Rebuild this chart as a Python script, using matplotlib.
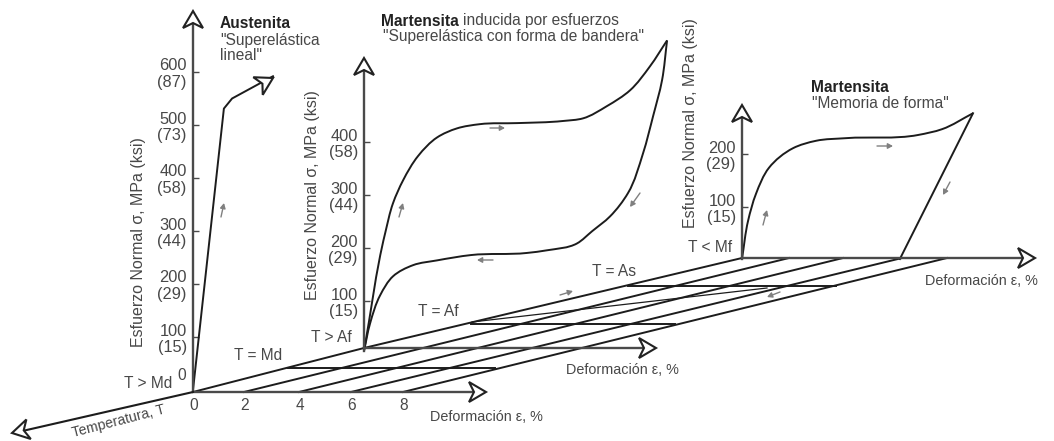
#!/usr/bin/env python3
# Diagrama esfuerzo-deformacion-temperatura (tres paneles sobre un plano base)
import matplotlib
matplotlib.use("Agg")
import numpy as np
import matplotlib.pyplot as plt
from matplotlib.patches import Polygon, PathPatch
from matplotlib.path import Path

plt.rcParams['font.family'] = ['Liberation Sans', 'DejaVu Sans']

W, H = 1054, 441
DARK = '#4a4a4a'
TEXT = '#484848'
GREY = '#808080'
FS = 11.2
X_PX, Y_PX = 26.4, 0.53  # pixeles por % y por MPa

# valores de las curvas: deformacion en %, esfuerzo en MPa
aust_strain = [0, 1.17, 1.48, 3.03]
aust_stress = [0, 531, 550, 592]

band_load_strain = [0, 0.80, 1.10, 1.48, 2.05, 2.77, 3.52, 4.39, 5.80, 7.54, 8.30, 9.20, 10.08, 10.83, 11.48]
band_load_stress = [6, 228, 285, 328, 374, 409, 426, 434, 436, 440, 445, 468, 498, 543, 592]
band_unload_strain = [11.48, 11.29, 10.95, 10.57, 10.0, 9.32, 8.64, 8.07, 6.93, 6.17, 4.05, 2.77, 1.86, 1.10, 0.61, 0.23, 0]
band_unload_stress = [592, 517, 449, 379, 304, 260, 232, 209, 196, 191, 187, 177, 168, 147, 111, 58, 6]

mem_load_strain = [0, 0.23, 0.53, 1.02, 1.93, 2.80, 3.94, 6.67, 7.58, 8.75]
mem_load_stress = [2, 74, 125, 174, 211, 225, 230, 236, 247, 277]
mem_unload_strain = [8.75, 5.98]
mem_unload_stress = [277, 2]

# marcas de los ejes de esfuerzo
aust_ticks = [100, 200, 300, 400, 500, 600]
aust_labels = ['100\n(15)', '200\n(29)', '300\n(44)', '400\n(58)', '500\n(73)', '600\n(87)']
band_ticks = [100, 200, 300, 400]
band_labels = ['100\n(15)', '200\n(29)', '300\n(44)', '400\n(58)']
mem_ticks = [100, 200]
mem_labels = ['100\n(15)', '200\n(29)']
strain_ticks = [0, 2, 4, 6, 8]

# plano base (pixeles de la figura)
diag_front_x = [193, 244, 299, 351, 403]
diag_back_x = [742, 789, 843, 902, 947]
level_y = [368, 324, 286]
level_x0 = [288, 471, 628]
level_x1 = [495, 675, 836]

# flechas pequenas: (x0, y0, x1, y1)
small_arrows = [
    (221, 217, 224, 203), (399, 217, 403, 203), (490, 128, 505, 128),
    (493, 260, 477, 260), (640, 193, 630, 207), (763, 225, 767, 210),
    (877, 146, 893, 146), (950, 182, 943, 195), (560, 295, 573, 291),
    (780, 292, 767, 297),
]

fig = plt.figure(figsize=(W / 100, H / 100), dpi=100)
base = fig.add_axes([0, 0, 1, 1], zorder=5)
base.set_xlim(0, W)
base.set_ylim(H, 0)
base.axis('off')
base.patch.set_alpha(0)


def panel(ox, zero_y, top_y, right_x, y0, ticks, labels):
    # ejes propios con la escala en % y MPa
    ax = fig.add_axes([ox / W, 1 - zero_y / H, (right_x - ox) / W, (zero_y - top_y) / H], zorder=2)
    ax.patch.set_alpha(0)
    ax.set_xlim(0, (right_x - ox) / X_PX)
    ax.set_ylim(y0, y0 + (zero_y - top_y) / Y_PX)
    for s in ['top', 'right', 'bottom']:
        ax.spines[s].set_visible(False)
    ax.spines['left'].set_color(DARK)
    ax.spines['left'].set_linewidth(1.7)
    ax.set_xticks([])
    ax.set_yticks(ticks)
    ax.set_yticklabels(labels, fontsize=11.8, color=TEXT, linespacing=1.12)
    ax.tick_params(axis='y', direction='in', length=4, width=1, color=DARK, pad=4.5)
    return ax


def arrowhead(x0, y0, x1, y1):
    # punta abierta con base concava, (x1, y1) es la punta
    d = np.array([x1 - x0, y1 - y0], dtype=float)
    d /= np.hypot(*d)
    n = np.array([-d[1], d[0]])
    tip = np.array([x1, y1])
    pts = [tip, tip - 17 * d + 10 * n, tip - 12 * d, tip - 17 * d - 10 * n]
    base.add_patch(Polygon(pts, closed=True, facecolor='white', edgecolor='#222222',
                           linewidth=1.5, joinstyle='miter', zorder=6))


def curve(ax, x, y, smooth=True):
    # trazo suave que pasa por los puntos leidos
    if not smooth:
        ax.plot(x, y, color='#1c1c1c', linewidth=1.4, clip_on=False, solid_joinstyle='round')
        return
    p = np.column_stack([x, y], ).astype(float)
    seg = np.hypot(np.diff(p[:, 0]) * X_PX, np.diff(p[:, 1]) * Y_PX)
    t = np.concatenate([[0], np.cumsum(seg)])
    m = np.gradient(p, t, axis=0)
    verts = [p[0]]
    codes = [Path.MOVETO]
    for i in range(len(p) - 1):
        verts += [p[i] + m[i] * seg[i] / 3, p[i + 1] - m[i + 1] * seg[i] / 3, p[i + 1]]
        codes += [Path.CURVE4] * 3
    ax.add_patch(PathPatch(Path(verts, codes), fill=False, edgecolor='#1c1c1c',
                           linewidth=1.4, clip_on=False))


ax1 = panel(193, 390, 22, 300, 0, aust_ticks, aust_labels)
ax2 = panel(364, 351, 70, 680, 6, band_ticks, band_labels)
ax3 = panel(742, 259, 117, 990, 2, mem_ticks, mem_labels)

curve(ax1, aust_strain, aust_stress, smooth=False)
curve(ax2, band_load_strain, band_load_stress)
curve(ax2, band_unload_strain, band_unload_stress)
curve(ax3, mem_load_strain, mem_load_stress)
curve(ax3, mem_unload_strain, mem_unload_stress, smooth=False)

# plano base: diagonales, niveles de temperatura y ejes de deformacion
line = dict(color='#1c1c1c', linewidth=1.4, zorder=3)
base.plot([193, 364, 742], [392, 348, 258], **line)
for x0, x1 in zip(diag_front_x[1:], diag_back_x[1:]):
    base.plot([x0, x1], [392, 258], **line)
for y, x0, x1 in zip(level_y, level_x0, level_x1):
    base.plot([x0, x1], [y, y], **line)
base.plot([472, 767], [322, 288], color='#1c1c1c', linewidth=0.9, zorder=3)

axis_line = dict(color=DARK, linewidth=1.7, zorder=3)
base.plot([193, 480], [392, 392], **axis_line)
base.plot([364, 650], [348, 348], **axis_line)
base.plot([742, 1028], [258, 258], **axis_line)
base.plot([193, 18], [392, 432], color='#1c1c1c', linewidth=1.5, zorder=3)

arrowhead(193, 392, 486, 392)
arrowhead(364, 348, 656, 348)
arrowhead(742, 258, 1035, 258)
arrowhead(193, 392, 12, 433)
arrowhead(193, 390, 193, 11)
arrowhead(364, 348, 364, 58)
arrowhead(742, 258, 742, 105)
arrowhead(232, 100, 273, 78)

for x0, y0, x1, y1 in small_arrows:
    base.annotate('', xy=(x1, y1), xytext=(x0, y0),
                  arrowprops=dict(arrowstyle='-|>,head_length=0.3,head_width=0.16',
                                  color=GREY, linewidth=1.0, shrinkA=0, shrinkB=0))


def label(x, y, s, ha='left', va='center', **kw):
    kw.setdefault('color', TEXT)
    kw.setdefault('fontsize', FS)
    base.text(x, y, s, ha=ha, va=va, **kw)


# marcas de deformacion del primer panel
for t, x in zip(strain_ticks, diag_front_x):
    label(x + 1, 406, str(t), ha='center')
label(182, 375, '0', ha='center')

label(430, 417, 'Deformación ε, %', fontsize=10.4)
label(566, 370, 'Deformación ε, %', fontsize=10.4)
label(925, 281, 'Deformación ε, %', fontsize=10.4)
label(119, 421, 'Temperatura, T', ha='center', fontsize=10.2, rotation=14.5, rotation_mode='anchor')

for x, y in [(138, 242), (312, 195), (690, 123)]:
    label(x, y, 'Esfuerzo Normal σ, MPa (ksi)', ha='center', rotation=90, fontsize=11.5)

label(148, 383, 'T > Md', ha='center')
label(258, 355, 'T = Md', ha='center')
label(331, 338, 'T > Af', ha='center')
label(438, 312, 'T = Af', ha='center')
label(614, 272, 'T = As', ha='center')
label(710, 248, 'T < Mf', ha='center')

label(220, 23, 'Austenita', fontweight='bold', color='#222222')
label(220, 40, '"Superelástica')
label(220, 56, 'lineal"')
label(381, 21, 'Martensita', fontweight='bold', color='#222222')
label(463, 21, 'inducida por esfuerzos')
label(383, 37, '"Superelástica con forma de bandera"')
label(811, 88, 'Martensita', fontweight='bold', color='#222222')
label(812, 104, '"Memoria de forma"')

fig.savefig('out.png', dpi=100)
